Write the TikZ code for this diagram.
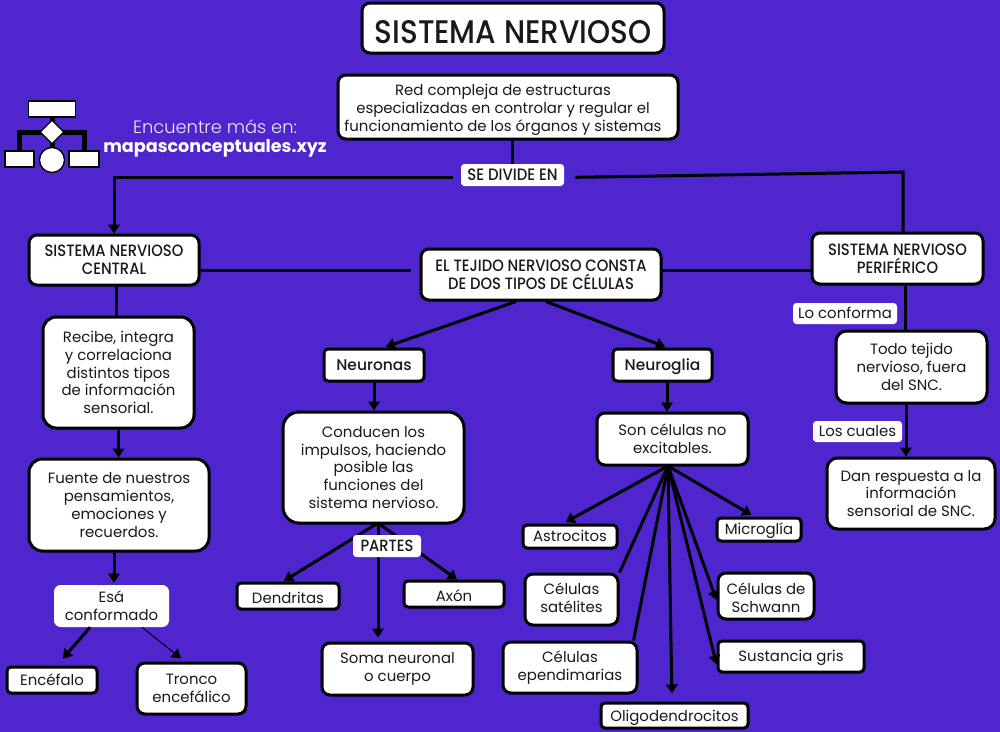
\documentclass[tikz,border=0pt]{standalone}
\usepackage{fontspec}
\setmainfont{Poppins}
\newfontfamily\medfont{Poppins Medium}
\newfontfamily\lightfont{Poppins Light}
\newfontfamily\titlefont[FakeStretch=0.9]{Poppins Medium}
\usetikzlibrary{arrows.meta,shapes.geometric}
\definecolor{fondo}{HTML}{4F25CD}
\def\px{0.75pt}
\begin{document}
\begin{tikzpicture}[x=0.75pt,y=-0.75pt,>={Triangle[length=6.75pt,width=8.5pt]},
  caja/.style 2 args={draw=black,fill=white,line width=2.25pt,rounded corners=6pt,inner sep=0pt,align=center,text=black!90,
    minimum width=#1*\px,minimum height=#2*\px,font=\fontsize{11.2}{13.4}\selectfont},
  rotulo/.style 2 args={fill=white,rounded corners=2.5pt,inner sep=0pt,align=center,text=black!90,
    minimum width=#1*\px,minimum height=#2*\px,font=\fontsize{11.2}{13.4}\selectfont},
  base/.style={text depth=1pt,text height=#1},
  base/.default=9pt,
  encabezado/.style={font=\titlefont\fontsize{12.3}{13.5}\selectfont},
  linea/.style={line width=2.25pt,draw=black},
  flecha/.style={linea,->},
  flechas/.style={linea,every edge/.append style={->}},
  logo/.style={draw=black,fill=white,line width=1pt,inner sep=0pt}]

  \fill[fondo] (0,0) rectangle (1000,732);
  \useasboundingbox (0,0) rectangle (1000,732);

  \node[caja={302}{50},font=\titlefont\fontsize{24.5}{26}\selectfont,base=24pt] (titulo) at (513,28) {SISTEMA NERVIOSO};
  \node[caja={340}{64},base=37pt] (definicion) at (508,107) {Red compleja de estructuras\kern7.5pt\\especializadas en controlar y regular el\kern7.5pt\\funcionamiento de los órganos y sistemas\kern7.5pt};
  \node[rotulo={103}{22},base,font=\titlefont\fontsize{12.4}{13}\selectfont] (divide) at (512.5,175) {SE DIVIDE EN};
  \node[caja={170}{50},encabezado] (central) at (114,260) {SISTEMA NERVIOSO\\CENTRAL};
  \node[caja={171}{51},encabezado] (periferico) at (897.5,258.5) {SISTEMA NERVIOSO\\PERIFÉRICO};
  \node[caja={240}{51},encabezado] (tejido) at (541,274.5) {EL TEJIDO NERVIOSO CONSTA\\DE DOS TIPOS DE CÉLULAS};

  \node[caja={151}{111},rounded corners=10pt] (recibe) at (118.5,372.5) {Recibe, integra\\y correlaciona\\distintos tipos\\de información\\sensorial.};
  \node[caja={180}{92},rounded corners=10pt] (fuente) at (119,505) {Fuente de nuestros\\pensamientos,\\emociones y\\recuerdos.};
  \node[rotulo={115}{42},rounded corners=5pt] (conformado) at (111.5,606) {Esá\\conformado};
  \node[caja={90}{26},rounded corners=3pt,base] (encefalo) at (52,680) {Encéfalo};
  \node[caja={109}{51}] (tronco) at (191.5,688.5) {Tronco\\encefálico};

  \node[caja={100}{32},rounded corners=3pt,font=\medfont\fontsize{11.6}{13.5}\selectfont,base] (neuronas) at (374,365) {Neuronas};
  \node[caja={99}{32},rounded corners=3pt,font=\medfont\fontsize{11.6}{13.5}\selectfont,base] (neuroglia) at (662.5,365) {Neuroglia};
  \node[caja={181}{111},rounded corners=12pt] (conducen) at (373.5,467.5) {Conducen los\\impulsos, haciendo\\posible las\\funciones del\\sistema nervioso.};
  \node[caja={151}{52}] (excitables) at (672.5,439) {Son células no\\excitables.};

  \node[caja={102}{26},rounded corners=3pt,base=12pt] (dendritas) at (288,596) {Dendritas};
  \node[caja={100}{26},rounded corners=3pt,base=12pt] (axon) at (454,594) {Axón};
  \node[caja={151}{52}] (soma) at (397.5,669) {Soma neuronal\\o cuerpo};

  \node[caja={94}{23},rounded corners=3pt,base] (astrocitos) at (570,536.5) {Astrocitos};
  \node[caja={84}{23},rounded corners=3pt,base] (microglia) at (759,529.5) {Microglía};
  \node[caja={93}{51},base=19.8pt] (satelites) at (571.5,599.5) {Células\\satélites};
  \node[caja={96}{46},base=25pt] (schwann) at (766,596) {Células de\\Schwann};
  \node[caja={134}{51}] (ependimarias) at (570,667.5) {Células\\ependimarias};
  \node[caja={146}{31},rounded corners=3pt,base] (gris) at (791,656.5) {Sustancia gris};
  \node[caja={147}{25},rounded corners=3pt,base=10pt] (oligo) at (674.5,715.5) {Oligodendrocitos};

  \node[rotulo={104}{21},base] (loconforma) at (845,313.5) {Lo conforma};
  \node[caja={151}{72},rounded corners=8pt] (todo) at (911.5,367) {Todo tejido\\nervioso, fuera\\del SNC.};
  \node[rotulo={89}{21},base] (loscuales) at (857.5,431.5) {Los cuales};
  \node[caja={168}{71},rounded corners=8pt] (respuesta) at (911,493.5) {Dan respuesta a la\\información\\sensorial de SNC.};

  \node[logo,minimum width=47*\px,minimum height=16*\px] (logotop) at (52,109) {};
  \node[logo,minimum width=29*\px,minimum height=16*\px] (logoizq) at (19.5,159) {};
  \node[logo,minimum width=30*\px,minimum height=16*\px] (logoder) at (84,159) {};
  \node[logo,circle,minimum size=25*\px] (logocirculo) at (52,160) {};
  \coordinate (logobarra) at (52,132);
  \path[line width=3.75pt,draw=black] (logotop.south) -- (logocirculo.north)
    (logoizq.north) |- (logobarra) -| (logoder.north);
  \node[logo,diamond,minimum size=24*\px] (logorombo) at (52,132) {};
  \node[text=white!90!fondo,font=\lightfont\fontsize{13.4}{15}\selectfont] (encuentre) at (215,127) {Encuentre más en:};
  \node[text=white,font=\bfseries\fontsize{13.2}{15}\selectfont] (web) at (215,148) {mapasconceptuales.xyz};

  \coordinate (lineadivide) at (512,177.5);
  \coordinate (esquina) at (903,172);
  \coordinate (lineatejido) at (541,270);
  \coordinate (abanico) at (668,466);
  \coordinate (partes) at (378,523);

  \draw[linea] (definicion.south -| divide) -- (divide);
  \draw[flecha,shorten <=8*\px] (divide.west |- lineadivide) -| (central);
  \draw[linea,shorten <=11*\px] (divide.east |- lineadivide) -- (esquina) -- (esquina |- periferico.north);
  \draw[linea,shorten >=9*\px] (central.east |- lineatejido) -- (tejido.west |- lineatejido);
  \draw[linea] (tejido.east |- lineatejido) -- (periferico.west |- lineatejido);

  \path[linea]
    ([xshift=2*\px]central.south) edge ([xshift=-2.5*\px]recibe.north)
    ([xshift=7.5*\px]periferico.south) edge ([xshift=-6.5*\px]todo.north);
  \path[flechas]
    (recibe) edge (recibe |- fuente.north)
    ([xshift=-5*\px]fuente.south) edge[shorten >=2*\px] ([xshift=2.5*\px]conformado.north)
    ([xshift=-21.5*\px]conformado.south) edge[shorten >=9*\px] ([xshift=5*\px]encefalo.north)
    ([xshift=-25*\px]tejido.south) edge[shorten >=2*\px] ([xshift=10*\px]neuronas.north)
    ([xshift=5*\px]tejido.south) edge[shorten >=2*\px] ([xshift=4.5*\px]neuroglia.north)
    (neuronas) edge (neuronas |- conducen.north)
    ([xshift=4.5*\px]neuroglia.south) edge ([xshift=-5.5*\px]excitables.north)
    ([xshift=-5.5*\px]todo.south) edge ([xshift=-5*\px]respuesta.north);
  \draw[->,line width=0.75pt,shorten >=5*\px] ([xshift=30.5*\px]conformado.south) -- ([xshift=-6.5*\px]tronco.north);

  \path[flechas] (partes)
    edge[shorten >=1*\px] ([xshift=-5*\px]dendritas.north)
    edge[shorten >=4*\px] ([xshift=-19.5*\px]soma.north)
    edge ([xshift=3*\px]axon.north);
  \node[rotulo={68}{22},base,font=\titlefont\fontsize{12.2}{13}\selectfont] (partesrotulo) at (387,546) {PARTES};

  \path[flechas] (abanico)
    edge[shorten >=3*\px] ([xshift=-7*\px]astrocitos.north)
    edge[shorten >=3*\px] ([xshift=-5*\px]microglia.north)
    edge[shorten >=8*\px] ([xshift=-2.5*\px]oligo.north)
    edge ([yshift=-8*\px]gris.west)
    edge ([yshift=-4*\px]schwann.west);
  \path[linea] (abanico)
    edge (satelites.north east)
    edge ([xshift=-5*\px]ependimarias.north east);
\end{tikzpicture}
\end{document}
